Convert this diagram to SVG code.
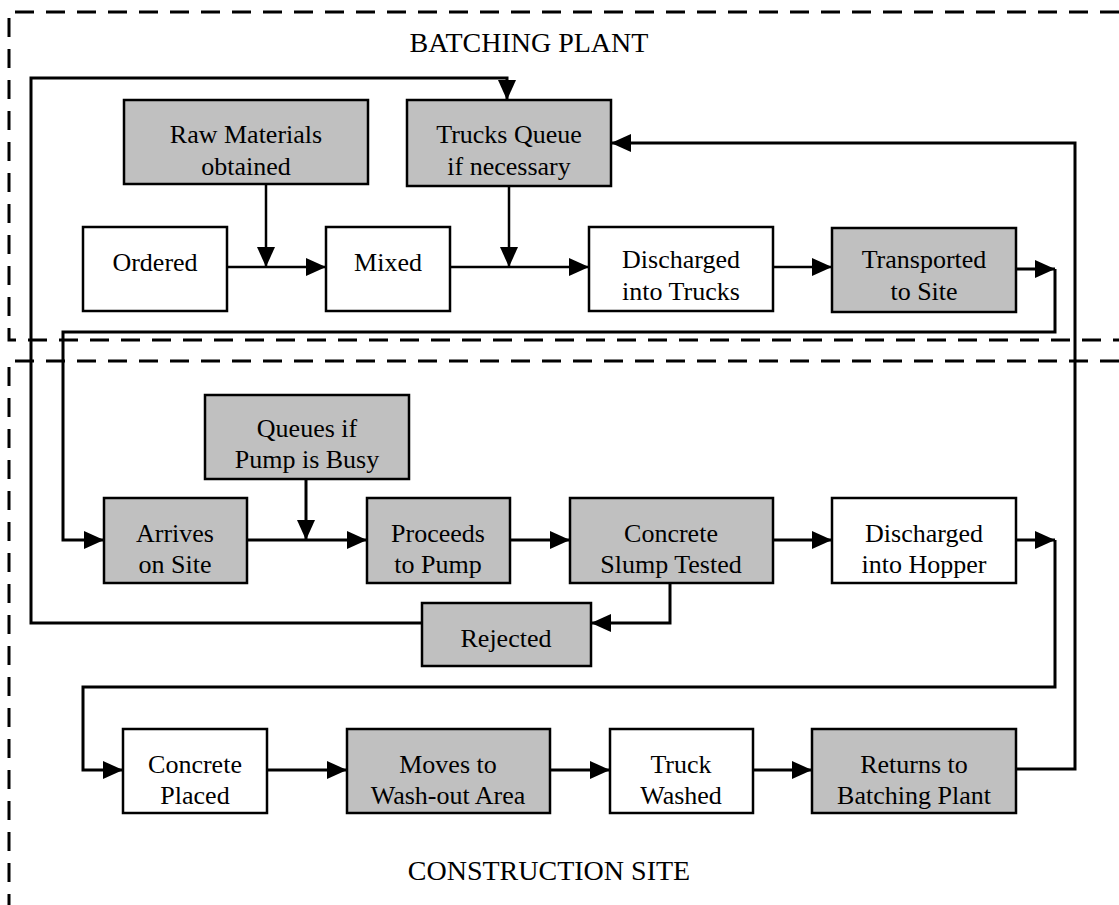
<svg xmlns="http://www.w3.org/2000/svg" width="1119" height="905" viewBox="0 0 1119 905">
<style>
.region{fill:none;stroke:#000;stroke-width:3;stroke-dasharray:19 12}
.box{stroke:#000;stroke-width:2.5}
.w{fill:#fff}
.g{fill:#c0c0c0}
.t{font-family:"Liberation Serif","Times New Roman",serif;font-size:26px;fill:#000;text-anchor:middle}
.lbl{font-family:"Liberation Serif","Times New Roman",serif;font-size:28px;fill:#000;text-anchor:middle}
.c{fill:none;stroke:#000;stroke-width:2.5}
.loop{fill:none;stroke:#000;stroke-width:3}
</style>
<defs>
<marker id="ah" viewBox="0 0 20 18" refX="20" refY="9" markerWidth="20" markerHeight="18" markerUnits="userSpaceOnUse" orient="auto">
<path d="M0,0 L20,9 L0,18 Z" fill="#000"/>
</marker>
</defs>
<rect width="1119" height="905" fill="#fff"/>
<g id="regions">
<path class="region" d="M1119,12 H9 V340 H1119"/>
<path class="region" d="M1119,361 H9 V905"/>
<text class="lbl" x="529" y="52">BATCHING PLANT</text>
<text class="lbl" x="549" y="880">CONSTRUCTION SITE</text>
</g>
<g id="connectors">
<path class="c" d="M227,267 H326" marker-end="url(#ah)"/>
<path class="c" d="M266,184 V267" marker-end="url(#ah)"/>
<path class="c" d="M450,267 H589" marker-end="url(#ah)"/>
<path class="c" d="M509,186 V267" marker-end="url(#ah)"/>
<path class="c" d="M773,267 H832" marker-end="url(#ah)"/>
<path class="loop" d="M1016,269 H1055" marker-end="url(#ah)"/>
<path class="loop" d="M1055,269 V332 H63 V540 H104" marker-end="url(#ah)"/>
<path class="loop" d="M247,540 H367" marker-end="url(#ah)"/>
<path class="loop" d="M306,479 V540" marker-end="url(#ah)"/>
<path class="loop" d="M510,540 H570" marker-end="url(#ah)"/>
<path class="loop" d="M773,540 H832" marker-end="url(#ah)"/>
<path class="loop" d="M1016,540 H1055" marker-end="url(#ah)"/>
<path class="loop" d="M1055,540 V687 H83 V770 H123" marker-end="url(#ah)"/>
<path class="loop" d="M670,583 V623 H591" marker-end="url(#ah)"/>
<path class="loop" d="M422,623 H31 V78 H507 V100" marker-end="url(#ah)"/>
<path class="loop" d="M267,770 H347" marker-end="url(#ah)"/>
<path class="loop" d="M550,770 H610" marker-end="url(#ah)"/>
<path class="loop" d="M753,770 H812" marker-end="url(#ah)"/>
<path class="loop" d="M1016,769 H1075 V143 H611" marker-end="url(#ah)"/>
</g>
<g id="raw-materials">
<rect class="box g" x="124" y="100" width="244" height="84"/>
<text class="t" x="246" y="143">Raw Materials</text>
<text class="t" x="246" y="175">obtained</text>
</g>
<g id="trucks-queue">
<rect class="box g" x="407" y="100" width="204" height="86"/>
<text class="t" x="509" y="143">Trucks Queue</text>
<text class="t" x="509" y="175">if necessary</text>
</g>
<g id="ordered">
<rect class="box w" x="83" y="227" width="144" height="84"/>
<text class="t" x="155" y="271">Ordered</text>
</g>
<g id="mixed">
<rect class="box w" x="326" y="227" width="124" height="84"/>
<text class="t" x="388" y="271">Mixed</text>
</g>
<g id="discharged-trucks">
<rect class="box w" x="589" y="227" width="184" height="84"/>
<text class="t" x="681" y="268">Discharged</text>
<text class="t" x="681" y="300">into Trucks</text>
</g>
<g id="transported">
<rect class="box g" x="832" y="228" width="184" height="84"/>
<text class="t" x="924" y="268">Transported</text>
<text class="t" x="924" y="300">to Site</text>
</g>
<g id="queues-pump">
<rect class="box g" x="205" y="395" width="204" height="84"/>
<text class="t" x="307" y="437">Queues if</text>
<text class="t" x="307" y="468">Pump is Busy</text>
</g>
<g id="arrives">
<rect class="box g" x="104" y="498" width="143" height="85"/>
<text class="t" x="175" y="542">Arrives</text>
<text class="t" x="175" y="573">on Site</text>
</g>
<g id="proceeds">
<rect class="box g" x="367" y="498" width="143" height="85"/>
<text class="t" x="438" y="542">Proceeds</text>
<text class="t" x="438" y="573">to Pump</text>
</g>
<g id="slump">
<rect class="box g" x="570" y="498" width="203" height="85"/>
<text class="t" x="671" y="542">Concrete</text>
<text class="t" x="671" y="573">Slump Tested</text>
</g>
<g id="discharged-hopper">
<rect class="box w" x="832" y="498" width="184" height="85"/>
<text class="t" x="924" y="542">Discharged</text>
<text class="t" x="924" y="573">into Hopper</text>
</g>
<g id="rejected">
<rect class="box g" x="422" y="603" width="169" height="63"/>
<text class="t" x="506" y="647">Rejected</text>
</g>
<g id="placed">
<rect class="box w" x="123" y="729" width="144" height="84"/>
<text class="t" x="195" y="773">Concrete</text>
<text class="t" x="195" y="804">Placed</text>
</g>
<g id="moves">
<rect class="box g" x="347" y="729" width="203" height="84"/>
<text class="t" x="448" y="773">Moves to</text>
<text class="t" x="448" y="804">Wash-out Area</text>
</g>
<g id="washed">
<rect class="box w" x="610" y="729" width="143" height="84"/>
<text class="t" x="681" y="773">Truck</text>
<text class="t" x="681" y="804">Washed</text>
</g>
<g id="returns">
<rect class="box g" x="812" y="729" width="204" height="84"/>
<text class="t" x="914" y="773">Returns to</text>
<text class="t" x="914" y="804">Batching Plant</text>
</g>
</svg>
